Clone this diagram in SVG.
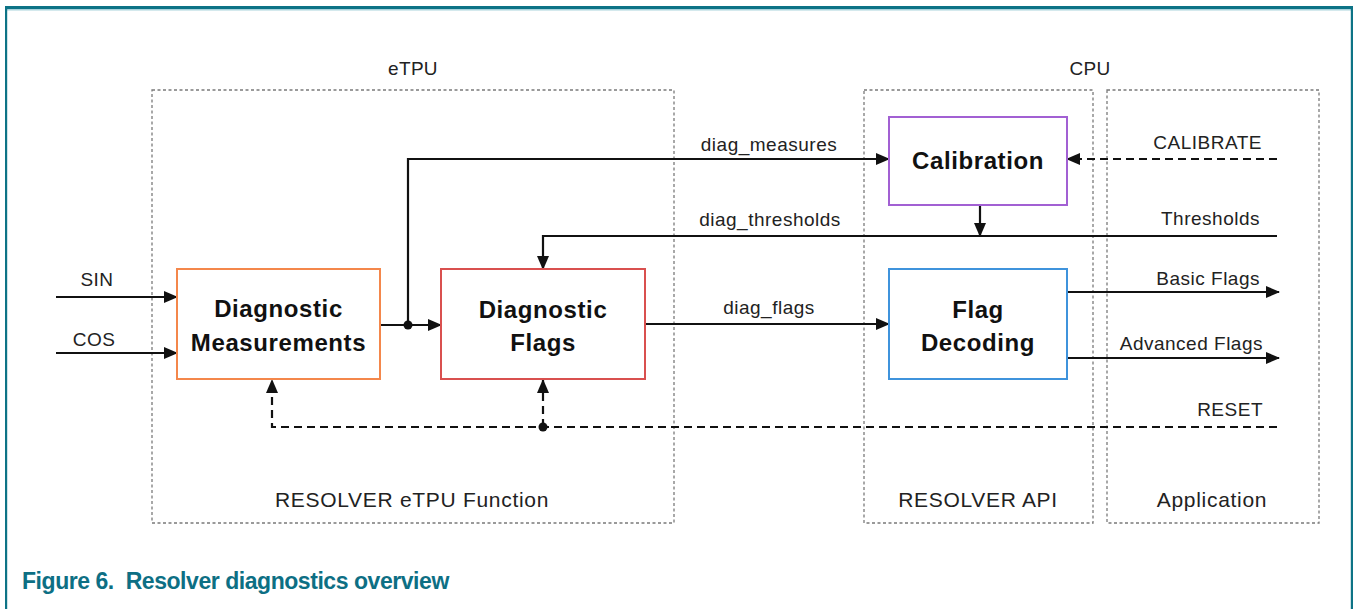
<svg xmlns="http://www.w3.org/2000/svg" width="1353" height="609" viewBox="0 0 1353 609">
  <style>
    .region { fill: none; stroke: #7a7a7a; stroke-width: 1.3; stroke-dasharray: 3 2.5; }
    .region-label { font-family: "Liberation Sans", Arial, sans-serif; font-size: 21px; letter-spacing: 0.7px; fill: #222; text-anchor: middle; }
    .domain-label { font-family: "Liberation Sans", Arial, sans-serif; font-size: 19px; letter-spacing: 0.3px; fill: #222; text-anchor: middle; }
    .node rect { fill: #fff; stroke-width: 2; }
    .node text { font-family: "Liberation Sans", Arial, sans-serif; font-size: 24px; font-weight: bold; letter-spacing: 0.6px; fill: #111; text-anchor: middle; }
    .wire { fill: none; stroke: #111; stroke-width: 2.2; }
    .ctrl { fill: none; stroke: #111; stroke-width: 2.2; stroke-dasharray: 8 5; }
    .sig { font-family: "Liberation Sans", Arial, sans-serif; font-size: 19px; letter-spacing: 0.5px; fill: #222; }
    .caption { font-family: "Liberation Sans", Arial, sans-serif; font-size: 23px; font-weight: bold; letter-spacing: -0.45px; fill: #0d6f84; }
  </style>
  <defs>
    <marker id="arrow" markerUnits="userSpaceOnUse" markerWidth="14" markerHeight="12" viewBox="0 0 14 12" refX="13" refY="6" orient="auto">
      <path d="M0,0 L14,6 L0,12 Z" fill="#111"/>
    </marker>
  </defs>

  <rect width="1353" height="609" fill="#fff"/>

  <!-- page frame -->
  <g id="frame">
    <rect x="7" y="9" width="1344" height="1.5" fill="#a9d3dc"/>
    <rect x="5" y="6" width="1348" height="3" fill="#0d7386"/>
    <rect x="5" y="6" width="2.2" height="603" fill="#0d7386"/>
    <rect x="1350.8" y="6" width="2.2" height="603" fill="#0d7386"/>
  </g>

  <!-- execution domains -->
  <g id="regions">
    <rect class="region" x="152" y="90" width="522" height="433"/>
    <rect class="region" x="864" y="90" width="229" height="433"/>
    <rect class="region" x="1107" y="90" width="212" height="433"/>
    <text class="domain-label" x="413" y="75">eTPU</text>
    <text class="domain-label" x="1090" y="75">CPU</text>
    <text class="region-label" x="412" y="507">RESOLVER eTPU Function</text>
    <text class="region-label" x="978" y="507">RESOLVER API</text>
    <text class="region-label" x="1212" y="507">Application</text>
  </g>

  <!-- connectors -->
  <g id="connectors">
    <path class="wire" d="M56,297 H177" marker-end="url(#arrow)"/>
    <path class="wire" d="M56,353 H177" marker-end="url(#arrow)"/>
    <path class="wire" d="M380,325 H441" marker-end="url(#arrow)"/>
    <path class="wire" d="M408,325 V159 H889" marker-end="url(#arrow)"/>
    <circle cx="408" cy="325" r="4.5" fill="#111"/>
    <path class="wire" d="M645,324 H889" marker-end="url(#arrow)"/>
    <path class="wire" d="M1277,236 H543 V269" marker-end="url(#arrow)"/>
    <path class="wire" d="M980,205 V236" marker-end="url(#arrow)"/>
    <path class="wire" d="M1067,292 H1279" marker-end="url(#arrow)"/>
    <path class="wire" d="M1067,358 H1279" marker-end="url(#arrow)"/>
    <path class="ctrl" d="M1277,159 H1067" marker-end="url(#arrow)"/>
    <path class="ctrl" d="M1277,427 H272 V380" marker-end="url(#arrow)"/>
    <path class="ctrl" d="M543,427 V380" marker-end="url(#arrow)"/>
    <circle cx="543" cy="427" r="4.5" fill="#111"/>

    <text class="sig" x="97" y="286" text-anchor="middle">SIN</text>
    <text class="sig" x="94" y="346" text-anchor="middle">COS</text>
    <text class="sig" x="769" y="151" text-anchor="middle">diag_measures</text>
    <text class="sig" x="770" y="226" text-anchor="middle">diag_thresholds</text>
    <text class="sig" x="769" y="314" text-anchor="middle">diag_flags</text>
    <text class="sig" x="1262" y="149" text-anchor="end">CALIBRATE</text>
    <text class="sig" x="1260" y="225" text-anchor="end">Thresholds</text>
    <text class="sig" x="1260" y="285" text-anchor="end">Basic Flags</text>
    <text class="sig" x="1263" y="350" text-anchor="end">Advanced Flags</text>
    <text class="sig" x="1263" y="416" text-anchor="end">RESET</text>
  </g>

  <!-- function blocks -->
  <g id="diag-measurements" class="node">
    <rect x="177" y="269" width="203" height="110" stroke="#f4874b"/>
    <text x="278.5" y="317">Diagnostic</text>
    <text x="278.5" y="351">Measurements</text>
  </g>
  <g id="diag-flags" class="node">
    <rect x="441" y="269" width="204" height="110" stroke="#d9504f"/>
    <text x="543" y="318">Diagnostic</text>
    <text x="543" y="351">Flags</text>
  </g>
  <g id="calibration" class="node">
    <rect x="889" y="117" width="178" height="88" stroke="#a260d3"/>
    <text x="978" y="169">Calibration</text>
  </g>
  <g id="flag-decoding" class="node">
    <rect x="889" y="269" width="178" height="110" stroke="#3f93dc"/>
    <text x="978" y="318">Flag</text>
    <text x="978" y="351">Decoding</text>
  </g>

  <text class="caption" x="22" y="589" xml:space="preserve">Figure 6.  Resolver diagnostics overview</text>
</svg>
